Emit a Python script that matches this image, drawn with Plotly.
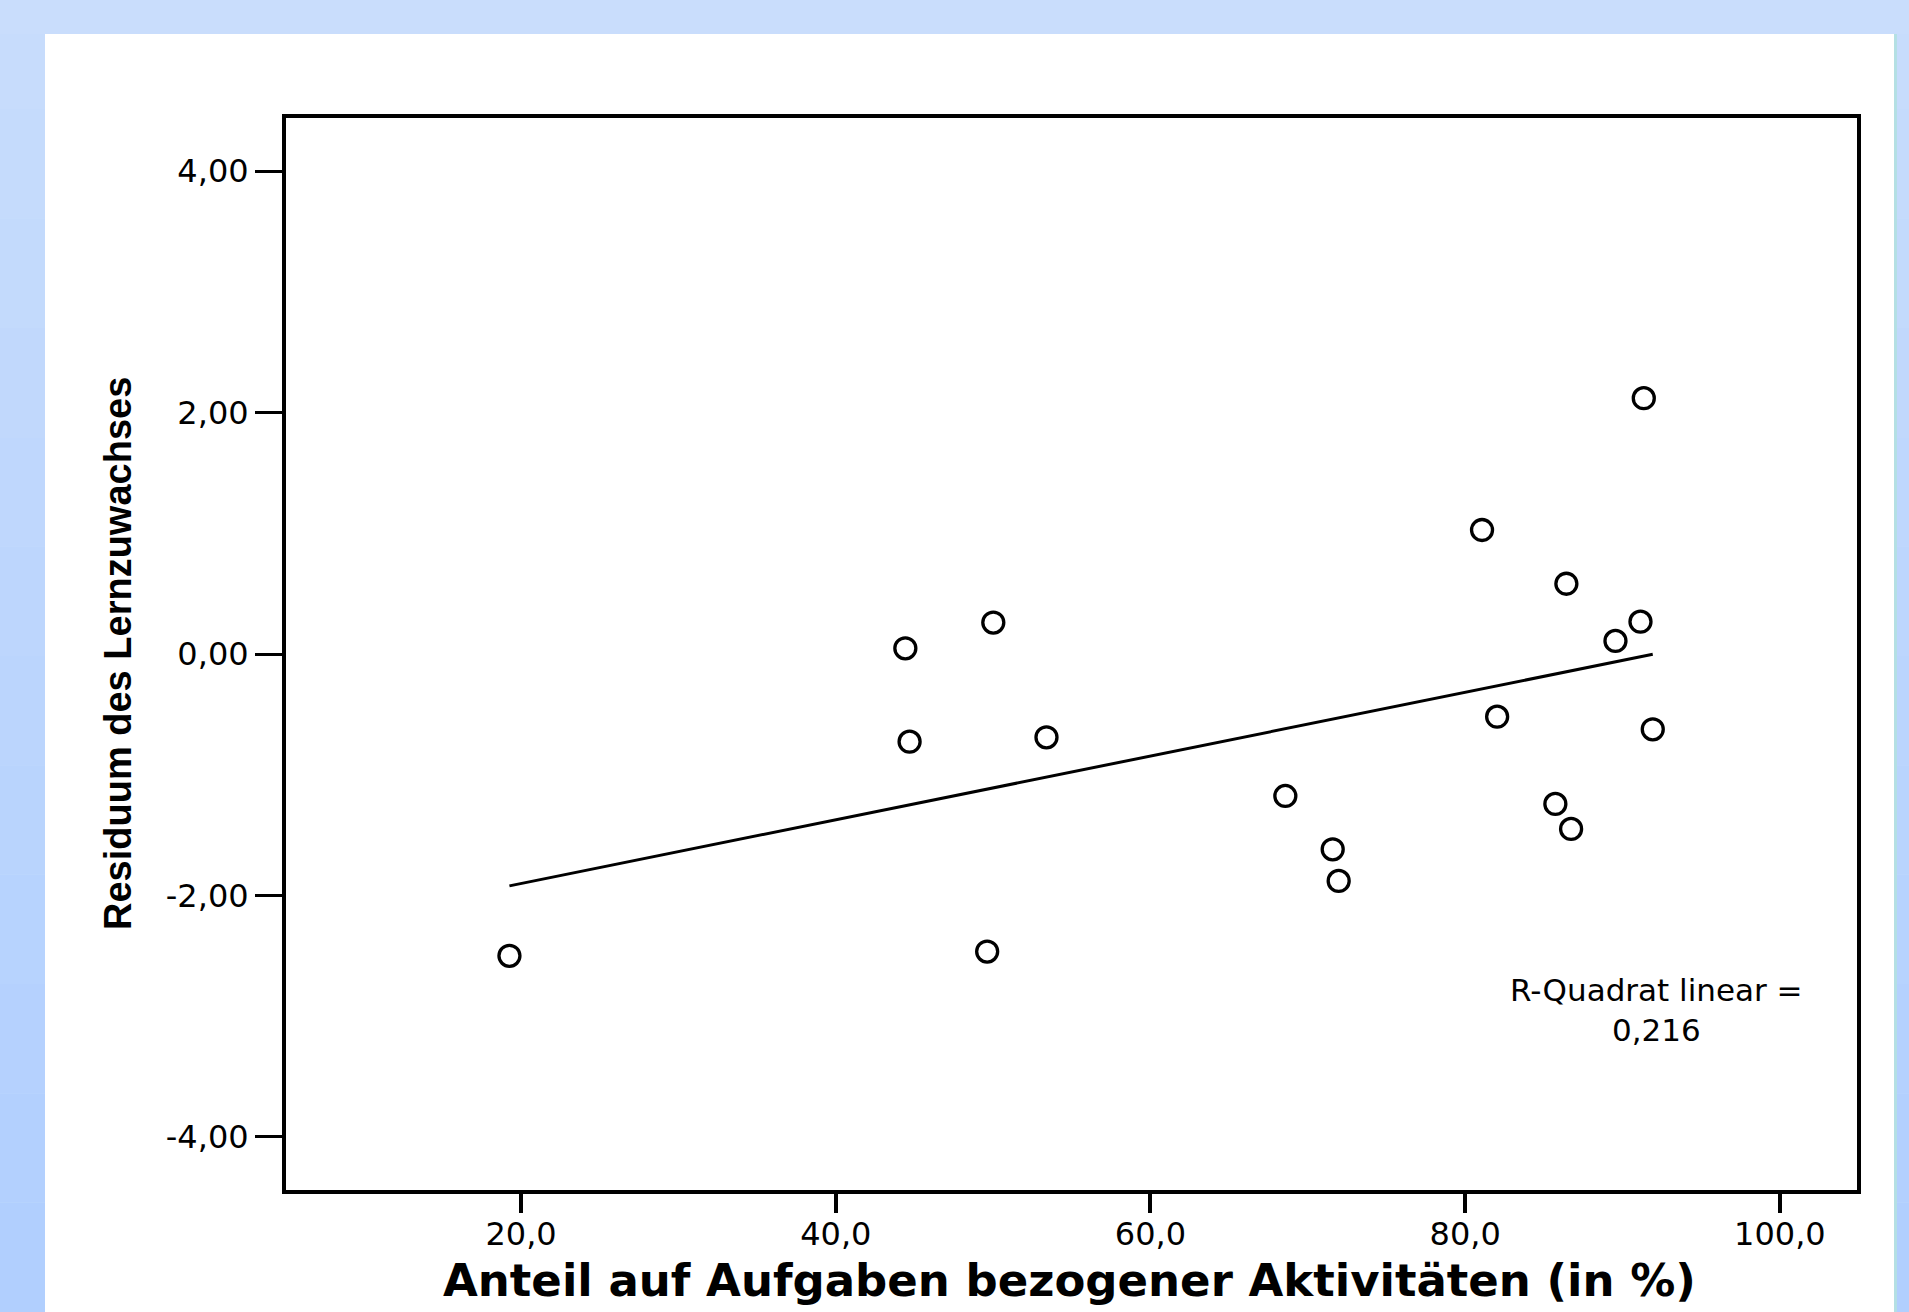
import numpy as np
import plotly.graph_objects as go

# ---------------- data ----------------
anteil = [19.26, 44.42, 44.69, 50.01, 49.62, 53.39, 68.57, 71.58, 71.96,
          81.07, 82.03, 85.73, 86.43, 86.73, 89.55, 91.14, 91.35, 91.92]
residuum = [-2.50, 0.047, -0.726, 0.26, -2.465, -0.69, -1.176, -1.618, -1.88,
            1.027, -0.519, -1.242, 0.582, -1.449, 0.108, 0.268, 2.119, -0.624]

x_tickvals = [20, 40, 60, 80, 100]
x_ticktext = ["20,0", "40,0", "60,0", "80,0", "100,0"]
y_tickvals = [4, 2, 0, -2, -4]
y_ticktext = ["4,00", "2,00", "0,00", "-2,00", "-4,00"]

x_title = "Anteil auf Aufgaben bezogener Aktivitäten (in %)"
y_title = "Residuum des Lernzuwachses"
r2_lines = ["R-Quadrat linear =", "0,216"]

# ---------------- linear fit ----------------
xa = np.array(anteil)
ya = np.array(residuum)
slope, intercept = np.polyfit(xa, ya, 1)
fit_x = [xa.min(), xa.max()]
fit_y = [intercept + slope * v for v in fit_x]

W, H = 1909, 1312
L, R, T, B = 286, 1857, 118, 1190

def px_x(p):
    return (p - L) / (R - L)

def px_y(p):
    return (B - p) / (B - T)

fig = go.Figure()
fig.add_trace(go.Scatter(x=fit_x, y=fit_y, mode="lines",
                         line=dict(color="black", width=3), showlegend=False,
                         hoverinfo="skip"))
fig.add_trace(go.Scatter(x=anteil, y=residuum, mode="markers",
                         marker=dict(symbol="circle-open", size=21,
                                     line=dict(color="black", width=3.3),
                                     color="black"),
                         showlegend=False))

tick_font = dict(family="DejaVu Sans, Liberation Sans, sans-serif", size=32, color="black")

fig.update_xaxes(range=[5.06, 104.9], tickvals=x_tickvals, ticktext=x_ticktext,
                 ticks="outside", ticklen=19, tickwidth=4, tickcolor="black",
                 showline=True, linecolor="black", linewidth=4, mirror=True,
                 showgrid=False, zeroline=False, tickfont=tick_font,
                 ticklabelstandoff=-6)
fig.update_yaxes(range=[-4.44, 4.44], tickvals=y_tickvals, ticktext=y_ticktext,
                 ticks="outside", ticklen=27, tickwidth=3, tickcolor="black",
                 showline=True, linecolor="black", linewidth=4, mirror=True,
                 showgrid=False, zeroline=False, tickfont=tick_font,
                 ticklabelstandoff=0)

shapes = []
# stepped vertical gradient for the light-blue surround
n = 12
top_c = np.array([0xC9, 0xDD, 0xFC])
bot_c = np.array([0xB0, 0xCF, 0xFF])
for i in range(n):
    c = top_c + (bot_c - top_c) * (i + 0.5) / n
    y0p = i * H / n
    y1p = (i + 1) * H / n
    shapes.append(dict(type="rect", xref="paper", yref="paper", layer="below",
                       x0=px_x(0), x1=px_x(W), y0=px_y(y1p), y1=px_y(y0p),
                       line=dict(width=0),
                       fillcolor="rgb(%d,%d,%d)" % tuple(c.astype(int))))
# top band uniform
shapes.append(dict(type="rect", xref="paper", yref="paper", layer="below",
                   x0=px_x(0), x1=px_x(W), y0=px_y(34), y1=px_y(0),
                   line=dict(width=0), fillcolor="#C9DDFC"))
# white slide panel
shapes.append(dict(type="rect", xref="paper", yref="paper", layer="below",
                   x0=px_x(45), x1=px_x(1894), y0=px_y(H), y1=px_y(34),
                   line=dict(width=0), fillcolor="white"))
# thin cyan edge on the right of the panel
shapes.append(dict(type="rect", xref="paper", yref="paper", layer="below",
                   x0=px_x(1894), x1=px_x(1897), y0=px_y(H), y1=px_y(34),
                   line=dict(width=0), fillcolor="#B4E0E4"))

annotations = [
    dict(text=x_title, xref="paper", yref="paper", x=px_x(1069), y=px_y(1280),
         xanchor="center", yanchor="middle", showarrow=False,
         font=dict(family="DejaVu Sans, Liberation Sans, sans-serif", size=45,
                   color="black", weight="bold")),
    dict(text=y_title, xref="paper", yref="paper", x=px_x(118), y=px_y(654),
         xanchor="center", yanchor="middle", showarrow=False, textangle=-90,
         font=dict(family="Liberation Sans, Arial, sans-serif",
                   size=38, color="black", weight="bold")),
    dict(text="<br>".join(r2_lines), xref="paper", yref="paper",
         x=px_x(1656), y=px_y(1010),
         xanchor="center", yanchor="middle", showarrow=False, align="center",
         font=dict(family="DejaVu Sans, Liberation Sans, sans-serif", size=31,
                   color="black")),
]

fig.update_layout(width=W, height=H,
                  margin=dict(l=L, r=W - R, t=T, b=H - B, autoexpand=False),
                  paper_bgcolor="#C9DDFC", plot_bgcolor="white",
                  shapes=shapes, annotations=annotations, showlegend=False)

fig.write_html("out.html", config={"displayModeBar": False},
               post_script="document.body.style.margin='0';"
                           "document.body.style.overflow='hidden';")
